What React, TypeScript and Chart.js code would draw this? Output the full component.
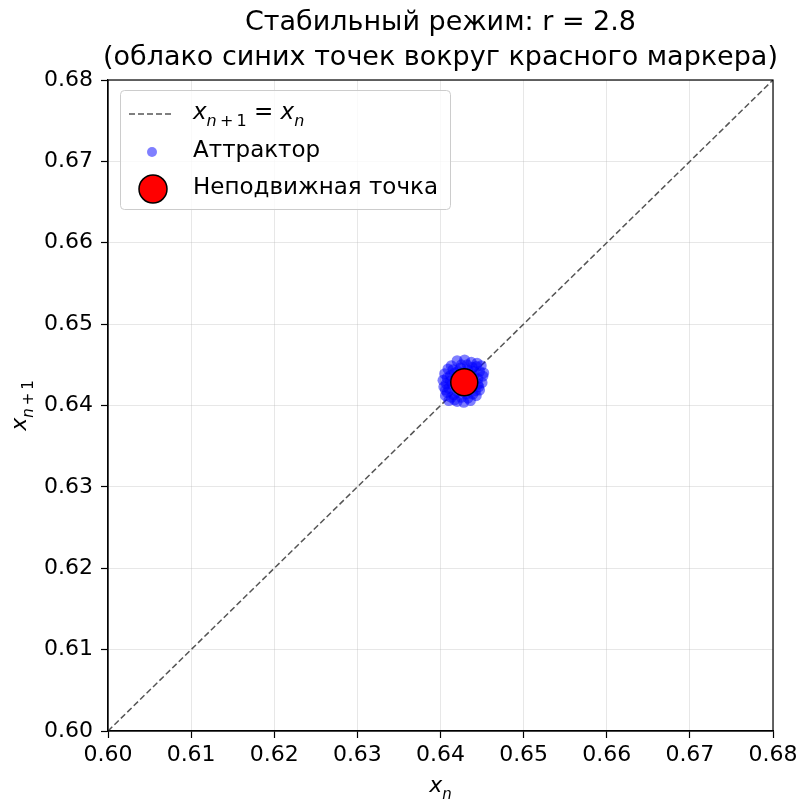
import React, { useEffect, useRef } from "react";
import { Chart, registerables } from "chart.js";

Chart.register(...registerables);

const titleLines = ["Стабильный режим: r = 2.8", "(облако синих точек вокруг красного маркера)"];
const axisMin = 0.6;
const axisMax = 0.68;
const tickStep = 0.01;

const diagonalX = [0.6, 0.68];
const diagonalY = [0.6, 0.68];

const attractorX = [
  0.6420, 0.6429, 0.6437, 0.6443, 0.6413,
  0.6447, 0.6451, 0.6450, 0.6447, 0.6443,
  0.6436, 0.6428, 0.6420, 0.6413, 0.6408,
  0.6404, 0.6403, 0.6405, 0.6409, 0.6417,
  0.6424, 0.6433, 0.6440, 0.6438, 0.6431,
  0.6421, 0.6414, 0.6418, 0.6426, 0.6435,
  0.6429, 0.6422, 0.6445, 0.6412, 0.6432,
  0.6425, 0.6406, 0.6449,
  0.6425, 0.6440, 0.6445, 0.6442, 0.6433,
  0.6416, 0.6410, 0.6408, 0.6415, 0.6430,
  0.6436, 0.6424, 0.6419, 0.6427, 0.6434,
  0.6412, 0.6446, 0.6438, 0.6421, 0.6407,
  0.6417, 0.6439, 0.6430, 0.6423, 0.6406,
  0.6452, 0.6444, 0.6410,
];
const attractorY = [
  0.6455, 0.6456, 0.6453, 0.6448, 0.6449,
  0.6442, 0.6436, 0.6428, 0.6419, 0.6412,
  0.6406, 0.6404, 0.6405, 0.6410, 0.6416,
  0.6423, 0.6431, 0.6439, 0.6445, 0.6440,
  0.6446, 0.6444, 0.6436, 0.6422, 0.6414,
  0.6416, 0.6426, 0.6433, 0.6437, 0.6430,
  0.6424, 0.6429, 0.6426, 0.6437, 0.6450,
  0.6410, 0.6412, 0.6449,
  0.6450, 0.6442, 0.6433, 0.6418, 0.6409,
  0.6413, 0.6421, 0.6434, 0.6444, 0.6440,
  0.6425, 0.6419, 0.6436, 0.6431, 0.6436,
  0.6430, 0.6423, 0.6447, 0.6442, 0.6427,
  0.6407, 0.6414, 0.6420, 0.6426, 0.6419,
  0.6440, 0.6452, 0.6406,
];
const fixedPointX = [0.642857];
const fixedPointY = [0.642857];

const legendLabels = ["Аттрактор", "Неподвижная точка"];

const FONT = "'DejaVu Sans', sans-serif";
const TICK_SIZE = 22;
const LEGEND_SIZE = 23;
const TITLE_SIZE = 27;

type Part = { t: string; italic?: boolean; sub?: boolean };

function drawMath(ctx: CanvasRenderingContext2D, parts: Part[], x: number, y: number, size: number, align: "left" | "center") {
  const fontFor = (p: Part) => `${p.italic ? "italic " : ""}${p.sub ? Math.round(size * 0.7) : size}px ${FONT}`;
  let total = 0;
  for (const p of parts) {
    ctx.font = fontFor(p);
    total += ctx.measureText(p.t).width;
  }
  let cx = align === "center" ? x - total / 2 : x;
  ctx.textAlign = "left";
  ctx.textBaseline = "alphabetic";
  for (const p of parts) {
    ctx.font = fontFor(p);
    ctx.fillText(p.t, cx, p.sub ? y + size * 0.3 : y);
    cx += ctx.measureText(p.t).width;
  }
}

const decorPlugin = {
  id: "decor",
  afterDraw(chart: any) {
    const ctx: CanvasRenderingContext2D = chart.ctx;
    const a = chart.chartArea;
    ctx.save();
    // frame
    ctx.strokeStyle = "#000";
    ctx.lineWidth = 1.2;
    ctx.strokeRect(a.left, a.top, a.right - a.left, a.bottom - a.top);

    // title
    ctx.fillStyle = "#000";
    ctx.font = `${TITLE_SIZE}px ${FONT}`;
    ctx.textAlign = "center";
    ctx.textBaseline = "middle";
    const cx = (a.left + a.right) / 2;
    ctx.fillText(titleLines[0], cx, 23);
    ctx.fillText(titleLines[1], cx, 58);

    // x axis title
    drawMath(ctx, [{ t: "x", italic: true }, { t: "n", italic: true, sub: true }], cx, 792, TICK_SIZE, "center");

    // y axis title
    ctx.save();
    ctx.translate(26, (a.top + a.bottom) / 2);
    ctx.rotate(-Math.PI / 2);
    drawMath(ctx, [{ t: "x", italic: true }, { t: "n", italic: true, sub: true }, { t: "\u2009+\u20091", sub: true }], 0, 0, TICK_SIZE, "center");
    ctx.restore();

    // legend
    const lx = 120, ly = 90, lw = 330, lh = 119;
    ctx.beginPath();
    (ctx as any).roundRect(lx + 0.5, ly + 0.5, lw, lh, 4);
    ctx.fillStyle = "rgba(255,255,255,0.8)";
    ctx.fill();
    ctx.strokeStyle = "#cccccc";
    ctx.lineWidth = 1;
    ctx.stroke();

    // row 1: dashed line
    ctx.beginPath();
    ctx.setLineDash([6, 3]);
    ctx.strokeStyle = "#555555";
    ctx.lineWidth = 1.5;
    ctx.moveTo(129, 114);
    ctx.lineTo(173, 114);
    ctx.stroke();
    ctx.setLineDash([]);
    ctx.fillStyle = "#000";
    drawMath(ctx, [
      { t: "x", italic: true },
      { t: "n", italic: true, sub: true },
      { t: "\u2009+\u20091", sub: true },
      { t: " = " },
      { t: "x", italic: true },
      { t: "n", italic: true, sub: true },
    ], 193, 119, LEGEND_SIZE, "left");

    // row 2: blue dot
    ctx.beginPath();
    ctx.arc(152, 152, 5, 0, Math.PI * 2);
    ctx.fillStyle = "rgba(0,0,255,0.5)";
    ctx.fill();
    ctx.fillStyle = "#000";
    ctx.font = `${LEGEND_SIZE}px ${FONT}`;
    ctx.textAlign = "left";
    ctx.textBaseline = "middle";
    ctx.fillText(legendLabels[0], 193, 151);

    // row 3: red circle
    ctx.beginPath();
    ctx.arc(153, 189, 14, 0, Math.PI * 2);
    ctx.fillStyle = "#ff0000";
    ctx.fill();
    ctx.strokeStyle = "#000";
    ctx.lineWidth = 1.5;
    ctx.stroke();
    ctx.fillStyle = "#000";
    ctx.fillText(legendLabels[1], 193, 188);
    ctx.restore();
  },
};

export default function App() {
  const canvasRef = useRef<HTMLCanvasElement | null>(null);

  useEffect(() => {
    document.body.style.margin = "0";
    const canvas = canvasRef.current;
    if (!canvas) return;

    const tickOpts = {
      min: axisMin,
      max: axisMax,
      ticks: {
        stepSize: tickStep,
        color: "#000",
        font: { family: FONT, size: TICK_SIZE },
        callback: (v: any) => Number(v).toFixed(2),
      },
      grid: {
        color: "rgba(176,176,176,0.3)",
        lineWidth: 1,
        tickColor: "#000",
        tickLength: 7,
        tickWidth: 1.2,
      },
      border: { display: true, color: "#000", width: 1.2 },
    };

    const chart = new Chart(canvas, {
      type: "scatter",
      data: {
        datasets: [
          {
            label: "diag",
            data: diagonalX.map((x, i) => ({ x, y: diagonalY[i] })),
            showLine: true,
            borderColor: "#555555",
            borderWidth: 1.5,
            borderDash: [6, 3],
            pointRadius: 0,
            fill: false,
            order: 3,
          },
          {
            label: legendLabels[0],
            data: attractorX.map((x, i) => ({ x, y: attractorY[i] })),
            backgroundColor: "rgba(0,0,255,0.5)",
            borderWidth: 0,
            pointRadius: 5.5,
            order: 2,
          },
          {
            label: legendLabels[1],
            data: fixedPointX.map((x, i) => ({ x, y: fixedPointY[i] })),
            backgroundColor: "#ff0000",
            borderColor: "#000",
            borderWidth: 1.5,
            pointRadius: 13.5,
            order: 1,
          },
        ],
      },
      options: {
        responsive: false,
        animation: false,
        devicePixelRatio: 1,
        layout: { padding: { top: 80, right: 26, left: 0, bottom: 0 } },
        plugins: {
          legend: { display: false },
          title: { display: false },
          tooltip: { enabled: false },
        },
        scales: {
          x: {
            type: "linear",
            position: "bottom",
            ...tickOpts,
            ticks: { ...tickOpts.ticks, padding: 4 },
            afterFit: (s: any) => { s.height = 70; s.paddingRight = 0; s.paddingLeft = 0; },
          } as any,
          y: {
            type: "linear",
            position: "left",
            ...tickOpts,
            ticks: { ...tickOpts.ticks, padding: 8 },
            afterFit: (s: any) => { s.width = 108; s.paddingTop = 0; s.paddingBottom = 0; },
          } as any,
        },
      },
      plugins: [decorPlugin],
    });
    return () => chart.destroy();
  }, []);

  return <canvas ref={canvasRef} width={799} height={801} style={{ display: "block" }} />;
}
